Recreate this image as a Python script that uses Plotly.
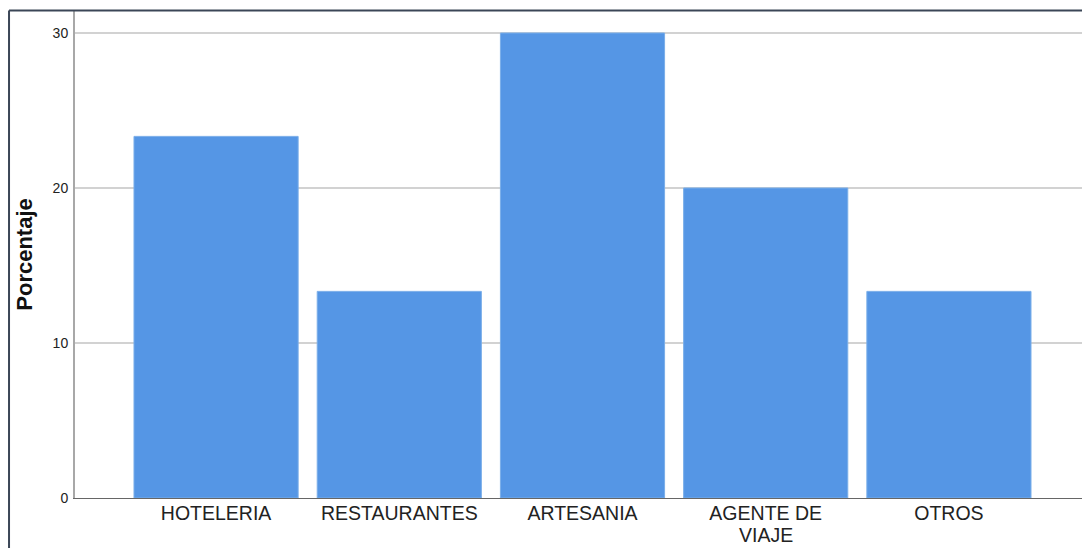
import plotly.graph_objects as go

categories = ["HOTELERIA", "RESTAURANTES", "ARTESANIA", "AGENTE DE VIAJE", "OTROS"]
label_lines = [["HOTELERIA"], ["RESTAURANTES"], ["ARTESANIA"], ["AGENTE DE", "VIAJE"], ["OTROS"]]
percentages = [23.33, 13.33, 30.0, 20.0, 13.33]
y_ticks = [0, 10, 20, 30]

LABEL_SIZE = 19.5
LINE_PITCH = 22

fig = go.Figure(go.Bar(
    x=categories, y=percentages,
    marker=dict(color="#5596e5", line=dict(color="#7aaee9", width=1)),
))

# extra lines of wrapped category labels, placed under their category on the x axis
annotations = []
for cat, lines in zip(categories, label_lines):
    for i, line in enumerate(lines[1:], start=1):
        annotations.append(dict(
            x=cat, xref="x", y=0, yref="paper", yanchor="middle",
            yshift=-(15 + i * LINE_PITCH), text=line, showarrow=False,
            borderpad=0, font=dict(size=LABEL_SIZE, color="#222"),
        ))

fig.update_layout(
    width=1082, height=540,
    margin=dict(l=67, r=0, t=3, b=50),
    paper_bgcolor="white", plot_bgcolor="white",
    bargap=0.104,
    showlegend=False,
    font=dict(family="Liberation Sans, Arial, sans-serif", color="#222"),
    xaxis=dict(
        range=[-0.77, 4.77], showgrid=False, automargin=False,
        tickmode="array", tickvals=categories, ticktext=[l[0] for l in label_lines],
        showline=True, linecolor="#666", linewidth=1,
        ticks="", ticklabelstandoff=-2, tickfont=dict(size=LABEL_SIZE, color="#222"),
    ),
    yaxis=dict(
        range=[0, 31.42], tickvals=y_ticks, automargin=False,
        showgrid=True, gridcolor="#d2d2d2", gridwidth=1.5,
        showline=True, linecolor="#a8a8a8", linewidth=2,
        zeroline=False, ticks="", ticklabelstandoff=2,
        tickfont=dict(size=14, color="#222"),
        title=dict(text="<b>Porcentaje</b>", font=dict(size=22, color="#111"), standoff=14),
    ),
    annotations=annotations,
    shapes=[
        dict(type="line", xref="paper", yref="paper", x0=-0.065, x1=1.0, y0=1.001, y1=1.001,
             line=dict(color="#3b4657", width=2)),
        dict(type="line", xref="paper", yref="paper", x0=-0.065, x1=-0.065, y0=1.001, y1=-0.11,
             line=dict(color="#3b4657", width=2)),
    ],
)

fig.write_html("out.html")
